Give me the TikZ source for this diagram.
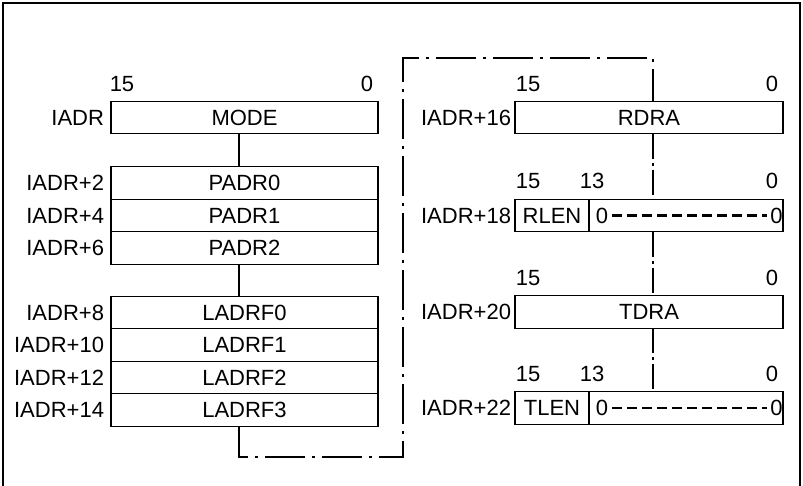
\documentclass[tikz,border=0pt]{standalone}
\usepackage{fontspec}
\setmainfont{Liberation Sans}
\usetikzlibrary{positioning}

\begin{document}
\begin{tikzpicture}[x=1pt, y=-1pt,
        every node/.style={font=\fontsize{22}{26}\selectfont, inner sep=0pt, outer sep=0pt},
        reg/.style={draw, line width=1.2pt, fill=white, minimum height=32.5pt},
        wide/.style={reg, minimum width=267pt},
        addr/.style={anchor=east},
        chain/.style={line width=1.1pt, dash pattern=on 40pt off 7pt on 3pt off 7pt},
        shortchain/.style={line width=1.1pt, dash pattern=on 25pt off 4pt on 3pt off 4pt},
        zeros/.style={line width=2.4pt, dash pattern=on 10pt off 5pt}]
    \useasboundingbox (0,0) rectangle (803,486);
    \draw[line width=1.5pt] (3,486) -- (3,3) -- (800,3) -- (800,486);

    % left block: mode, physical address, logical address filter
        \node[wide] (mode) at (244.5,117.5) {MODE};
        \node[wide] (padr0) at (244.5,183) {PADR0};
        \node[wide, below=0pt of padr0] (padr1) {PADR1};
        \node[wide, below=0pt of padr1] (padr2) {PADR2};
        \node[wide] (ladrf0) at (244.5,312.5) {LADRF0};
        \node[wide, below=0pt of ladrf0] (ladrf1) {LADRF1};
        \node[wide, below=0pt of ladrf1] (ladrf2) {LADRF2};
        \node[wide, below=0pt of ladrf2] (ladrf3) {LADRF3};

    % left addresses
        \node[addr] (a0) at (104,117.5) {IADR};
        \node[addr] (a2) at (104,183) {IADR+2};
        \node[addr] (a4) at (104,215.5) {IADR+4};
        \node[addr] (a6) at (104,248) {IADR+6};
        \node[addr] (a8) at (104,312.5) {IADR+8};
        \node[addr] (a10) at (104,345) {IADR+10};
        \node[addr] (a12) at (104,377.5) {IADR+12};
        \node[addr] (a14) at (104,410) {IADR+14};
        \node (lb15) at (122,84) {15};
        \node (lb0) at (367,84) {0};

    % right block: ring descriptors
        \node[reg, minimum width=268pt] (rdra) at (649,117.5) {RDRA};
        \node[reg, minimum width=74pt] (rlen) at (552,215.5) {RLEN};
        \node[reg, minimum width=194pt, right=0pt of rlen] (rzero) {};
        \node[reg, minimum width=268pt] (tdra) at (649,312) {TDRA};
        \node[reg, minimum width=74pt] (tlen) at (552,408) {TLEN};
        \node[reg, minimum width=194pt, right=0pt of tlen] (tzero) {};
        \node (rz1) at (602,215.5) {0};
        \node (rz2) at (776.5,215.5) {0};
        \node (tz1) at (602,408) {0};
        \node (tz2) at (776.5,408) {0};
        \draw[zeros] ([xshift=4pt]rz1.east) -- ([xshift=-3pt]rz2.west);
        \draw[zeros] ([xshift=4pt]tz1.east) -- ([xshift=-3pt]tz2.west);

    % right addresses and bit numbers
        \node[addr] (a16) at (511,117.5) {IADR+16};
        \node[addr] (a18) at (511,215.5) {IADR+18};
        \node[addr] (a20) at (511,312) {IADR+20};
        \node[addr] (a22) at (511,408) {IADR+22};
        \node (rb15a) at (528,84) {15};
        \node (rb0a) at (772,84) {0};
        \node (rb15b) at (528,181) {15};
        \node (rb13b) at (592,181) {13};
        \node (rb0b) at (772,181) {0};
        \node (rb15c) at (528,278) {15};
        \node (rb0c) at (772,278) {0};
        \node (rb15d) at (528,374) {15};
        \node (rb13d) at (592,374) {13};
        \node (rb0d) at (772,374) {0};

    % connectors
        \draw[line width=1.1pt] ([xshift=-5.5pt]mode.south) -- ([xshift=-5.5pt]padr0.north);
        \draw[line width=1.1pt] ([xshift=-5.5pt]padr2.south) -- ([xshift=-5.5pt]ladrf0.north);
        \coordinate (lowturn) at (403,457);
        \coordinate (highturn) at (403,58);
        \draw[chain] ([xshift=-5.5pt]ladrf3.south) |- (lowturn) -- (highturn) -| ([xshift=4pt]rdra.north);
        \draw[shortchain] ([xshift=4pt]rdra.south) -- ([xshift=4pt]rdra.south |- rlen.north);
        \draw[shortchain] ([xshift=4pt]rdra.south |- rlen.south) -- ([xshift=4pt]tdra.north);
        \draw[shortchain] ([xshift=4pt]tdra.south) -- ([xshift=4pt]tdra.south |- tlen.north);
\end{tikzpicture}
\end{document}
